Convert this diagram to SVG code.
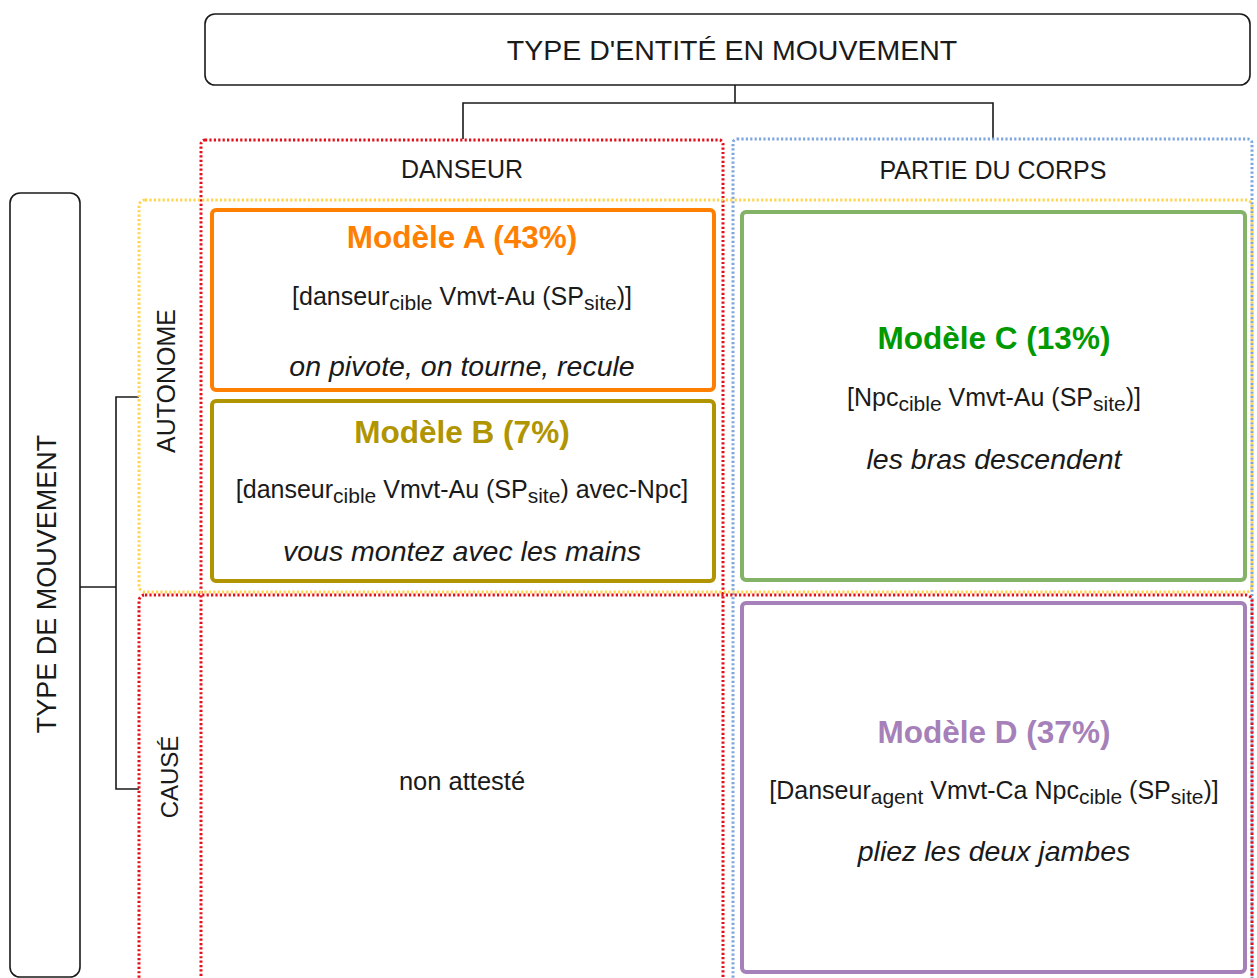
<svg xmlns="http://www.w3.org/2000/svg" width="1257" height="978" viewBox="0 0 1257 978">
<style>
text{font-family:"Liberation Sans",Arial,Helvetica,sans-serif;fill:#1a1a1a}
.lbl{font-size:25px}
.f{font-size:25px}
.s{font-size:21px}
.it{font-size:28.5px;font-style:italic}
.ttl{font-size:31.5px;font-weight:bold}
.frame{fill:#fff;stroke:#1a1a1a;stroke-width:1.6}
.dot{fill:none;stroke-width:3;stroke-dasharray:2.2 2.2}
.box{fill:#fff;stroke-width:4}
.con{fill:none;stroke:#1a1a1a;stroke-width:1.6}
</style>
<rect width="1257" height="978" fill="#fff"/>

<g id="connectors">
<polyline class="con" points="735,85 735,103"/>
<polyline class="con" points="463,139 463,103 993,103 993,139"/>
<polyline class="con" points="80,587 116,587"/>
<polyline class="con" points="139,397 116,397 116,789 139,789"/>
</g>

<g id="col-danseur">
<rect class="dot" x="201" y="140" width="522" height="860" rx="4" stroke="#e3101a"/>
<text class="lbl" x="462" y="178" text-anchor="middle">DANSEUR</text>
</g>
<g id="col-partie">
<rect class="dot" x="733" y="139" width="519" height="860" rx="4" stroke="#7ea6e0"/>
<text class="lbl" x="993" y="179" text-anchor="middle">PARTIE DU CORPS</text>
</g>
<g id="row-autonome">
<rect class="dot" x="139" y="200" width="1113" height="392" rx="6" stroke="#ffd54f"/>
<text class="lbl" transform="translate(175,381) rotate(-90)" text-anchor="middle">AUTONOME</text>
</g>
<g id="row-cause">
<rect class="dot" x="139" y="595" width="1113" height="410" rx="6" stroke="#e3101a"/>
<text class="lbl" transform="translate(178,777) rotate(-90)" text-anchor="middle" style="font-size:24px">CAUSÉ</text>
<text x="462" y="790" text-anchor="middle" style="font-size:25.5px">non attesté</text>
</g>

<g id="type-entite">
<rect class="frame" x="205" y="14" width="1045" height="71" rx="10"/>
<text x="732" y="60" text-anchor="middle" style="font-size:28.5px">TYPE D'ENTITÉ EN MOUVEMENT</text>
</g>
<g id="type-mouvement">
<rect class="frame" x="10" y="193" width="70" height="784" rx="10"/>
<text transform="translate(56,584) rotate(-90)" text-anchor="middle" style="font-size:27px">TYPE DE MOUVEMENT</text>
</g>

<g id="modele-a">
<rect class="box" x="212" y="210" width="502" height="180" rx="4" stroke="#ff8000"/>
<text class="ttl" x="462" y="248" text-anchor="middle" style="fill:#ff8000">Modèle A (43%)</text>
<text class="f" x="462" y="305" text-anchor="middle">[danseur<tspan class="s" dy="5">cible</tspan><tspan dy="-5"> Vmvt-Au (SP</tspan><tspan class="s" dy="5">site</tspan><tspan dy="-5">)]</tspan></text>
<text class="it" x="462" y="376" text-anchor="middle">on pivote, on tourne, recule</text>
</g>

<g id="modele-b">
<rect class="box" x="212" y="401" width="502" height="180" rx="4" stroke="#b09500"/>
<text class="ttl" x="462" y="443" text-anchor="middle" style="fill:#b09500">Modèle B (7%)</text>
<text class="f" x="462" y="498" text-anchor="middle">[danseur<tspan class="s" dy="5">cible</tspan><tspan dy="-5"> Vmvt-Au (SP</tspan><tspan class="s" dy="5">site</tspan><tspan dy="-5">) avec-Npc]</tspan></text>
<text class="it" x="462" y="561" text-anchor="middle">vous montez avec les mains</text>
</g>

<g id="modele-c">
<rect class="box" x="742" y="212" width="503" height="368" rx="4" stroke="#82b366"/>
<text class="ttl" x="994" y="349" text-anchor="middle" style="fill:#009900">Modèle C (13%)</text>
<text class="f" x="994" y="406" text-anchor="middle">[Npc<tspan class="s" dy="5">cible</tspan><tspan dy="-5"> Vmvt-Au (SP</tspan><tspan class="s" dy="5">site</tspan><tspan dy="-5">)]</tspan></text>
<text class="it" x="994" y="469" text-anchor="middle">les bras descendent</text>
</g>

<g id="modele-d">
<rect class="box" x="742" y="603" width="503" height="369" rx="4" stroke="#a680b8"/>
<text class="ttl" x="994" y="743" text-anchor="middle" style="fill:#a680b8">Modèle D (37%)</text>
<text class="f" x="994" y="799" text-anchor="middle">[Danseur<tspan class="s" dy="5">agent</tspan><tspan dy="-5"> Vmvt-Ca Npc</tspan><tspan class="s" dy="5">cible</tspan><tspan dy="-5"> (SP</tspan><tspan class="s" dy="5">site</tspan><tspan dy="-5">)]</tspan></text>
<text class="it" x="994" y="861" text-anchor="middle">pliez les deux jambes</text>
</g>
</svg>
